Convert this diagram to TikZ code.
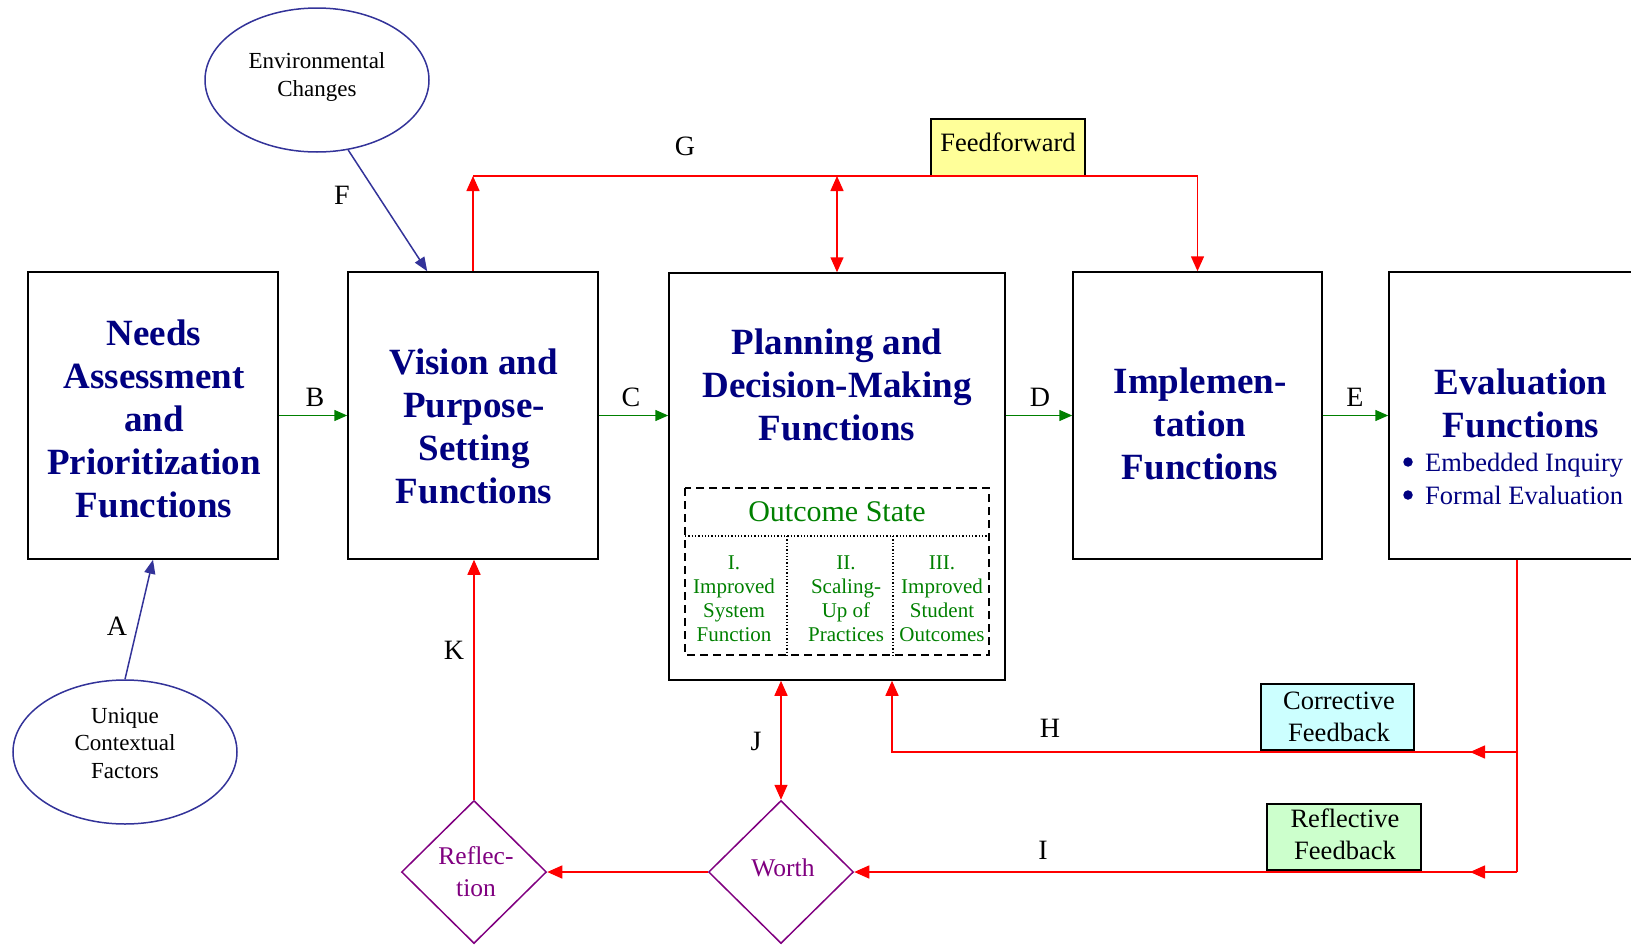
\documentclass[tikz,border=0pt]{standalone}
\usepackage{fontspec}
\setmainfont{Liberation Serif}
\usetikzlibrary{arrows.meta,shapes.geometric}
\definecolor{navyblue}{RGB}{0,0,128}
\definecolor{dkgreen}{RGB}{0,128,0}
\definecolor{plum}{RGB}{128,0,128}
\definecolor{indigo}{RGB}{51,51,153}
\definecolor{cyanfill}{RGB}{204,255,255}
\definecolor{greenfill}{RGB}{204,255,204}
\definecolor{yellowfill}{RGB}{255,255,153}
\begin{document}
\begin{tikzpicture}[x=1pt,y=-1pt,
  funcbox/.style={draw=black, line width=1.5pt, inner sep=0pt, minimum height=287pt},
  titletext/.style={font=\fontsize{37}{43}\selectfont\bfseries, text=navyblue, align=center, inner sep=0pt},
  lbl/.style={font=\fontsize{28}{32}\selectfont, inner sep=0pt},
  oval/.style={ellipse, draw=indigo, line width=1.5pt, minimum width=224pt, minimum height=144pt, inner sep=0pt},
  ovaltext/.style={font=\fontsize{23}{27.5}\selectfont, align=center, inner sep=0pt},
  judge/.style={diamond, draw=plum, line width=1.5pt, minimum width=145pt, minimum height=143pt, inner sep=0pt},
  judgetext/.style={font=\fontsize{25.5}{32}\selectfont, text=plum, align=center, inner sep=0pt},
  notebox/.style={draw=black, line width=1.5pt, inner sep=0pt},
  notetext/.style={font=\fontsize{26.5}{32}\selectfont, align=center, inner sep=0pt},
  flow/.style={draw=dkgreen, line width=1.5pt, -{Triangle[length=13pt,width=11pt]}},
  loop/.style={draw=red, line width=1.5pt},
  tip/.style={-{Triangle[length=15pt,width=13pt]}},
  bothtips/.style={{Triangle[length=15pt,width=13pt]}-{Triangle[length=15pt,width=13pt]}},
  cause/.style={draw=indigo, line width=1.5pt, -{Triangle[length=14pt,width=11pt]}},
  outcome/.style={font=\fontsize{21}{24}\selectfont, text=dkgreen, align=center, inner sep=0pt},
  dot/.style={circle, fill=navyblue, minimum size=9.5pt, inner sep=0pt},
  bullettext/.style={font=\fontsize{26.5}{31}\selectfont, text=navyblue, anchor=base west, inner sep=0pt}
]
\useasboundingbox (0,0) rectangle (1631,945);
\clip (0,0) rectangle (1631,945);

% the five function boxes
\node[funcbox, minimum width=250pt] (needs) at (153,415.5) {};
\node[funcbox, minimum width=250pt] (vision) at (473,415.5) {};
\node[funcbox, minimum width=336pt, minimum height=407pt] (planning) at (837,476.5) {};
\node[funcbox, minimum width=249pt] (impl) at (1197.5,415.5) {};
\node[funcbox, minimum width=256pt] (eval) at (1517,415.5) {};

\node[titletext] (needsT) at (154,419) {Needs\\Assessment\\and\\Prioritization\\Functions};
\node[titletext] (visionT) at (474,426) {Vision and\\Purpose-\\Setting\\Functions};
\node[titletext] (planT) at (837,385) {Planning and\\Decision-Making\\Functions};
\node[titletext] (implT) at (1200,424) {Implemen-\\tation\\Functions};
\node[titletext] (evalT) at (1521,403) {Evaluation\\Functions};
\node[dot] (b1) at (1408,462) {};
\node[dot] (b2) at (1408,495) {};
\node[bullettext] (evalL1) at (1425,471) {Embedded Inquiry};
\node[bullettext] (evalL2) at (1425,504) {Formal Evaluation};

% outcome state panel inside the planning box
\draw[line width=1.5pt, dash pattern=on 8pt off 5pt] (685,488) rectangle (989,655);
\draw[line width=1.3pt, dotted] (685,536) -- (989,536);
\draw[line width=1.3pt, dotted] (787,536) -- (787,655);
\draw[line width=1.3pt, dotted] (893,536) -- (893,655);
\node[font=\fontsize{30}{34}\selectfont, text=dkgreen, inner sep=0pt] (outT) at (837,512) {Outcome State};
\node[outcome] (out1) at (734,599) {I.\\Improved\\System\\Function};
\node[outcome] (out2) at (846,599) {II.\\Scaling-\\Up of\\Practices};
\node[outcome] (out3) at (942,599) {III.\\Improved\\Student\\Outcomes};

% context ovals
\node[oval] (env) at (317,80) {};
\node[oval] (uniq) at (125,752) {};
\node[ovaltext] (envT) at (317,77) {Environmental\\Changes};
\node[ovaltext] (uniqT) at (125,743) {Unique\\Contextual\\Factors};

% judgement diamonds
\node[judge] (refl) at (474,872) {};
\node[judge] (worth) at (781,872) {};
\node[judgetext] (reflT) at (476,872) {Reflec-\\tion};
\node[judgetext] (worthT) at (783,868) {Worth};

% feedback notes
\node[notebox, fill=yellowfill, minimum width=154pt, minimum height=57pt] (ffwd) at (1008,147.5) {};
\node[notebox, fill=cyanfill, minimum width=153pt, minimum height=66pt] (corr) at (1337.5,717) {};
\node[notebox, fill=greenfill, minimum width=154pt, minimum height=66pt] (refb) at (1344,837) {};
\node[notetext] (ffwdT) at (1008,142) {Feedforward};
\node[notetext] (corrT) at (1339,717) {Corrective\\Feedback};
\node[notetext] (refbT) at (1345,834) {Reflective\\Feedback};

% main flow
\draw[flow] (needs.east) -- (vision.west);
\draw[flow] (vision.east) -- (vision.east -| planning.west);
\draw[flow] (planning.east |- impl.west) -- (impl.west);
\draw[flow] (impl.east) -- (eval.west);

% context influences
\draw[cause] (uniq.north) -- (needs.south);
\draw[cause] (env.-66) -- ([xshift=80pt]vision.north west);

% feedforward loop (G)
\coordinate (gline) at (0,176);
\draw[loop, tip] (vision.north) -- (vision.north |- gline);
\draw[loop, tip] (vision.north |- gline) -- (impl.north |- gline) -- (impl.north);
\draw[loop, bothtips] (planning.north |- gline) -- (planning.north);

% corrective and reflective feedback (H, I)
\coordinate (hline) at (892,752);
\coordinate (iline) at (0,872);
\coordinate (hmid) at (1470,752);
\coordinate (imid) at (1470,872);
\draw[loop] (eval.south) -- (eval.south |- iline);
\draw[loop, tip] (eval.south |- hline) -- (hline) -- (hline |- planning.south);
\draw[loop, tip] (eval.south |- hline) -- (hmid);
\draw[loop, tip] (eval.south |- iline) -- (worth.east);
\draw[loop, tip] (eval.south |- iline) -- (imid);

% judgement loop (J, K)
\draw[loop, bothtips] (planning.south -| worth.north) -- (worth.north);
\draw[loop, tip] (worth.west) -- (refl.east);
\draw[loop, tip] (refl.north) -- (refl.north |- vision.south);

% connector letters
\node[lbl] (lA) at (117,626) {A};
\node[lbl] (lB) at (315,397) {B};
\node[lbl] (lC) at (631,397) {C};
\node[lbl] (lD) at (1040,397) {D};
\node[lbl] (lE) at (1355,397) {E};
\node[lbl] (lF) at (342,195) {F};
\node[lbl] (lG) at (685,146) {G};
\node[lbl] (lH) at (1050,728) {H};
\node[lbl] (lI) at (1043,850) {I};
\node[lbl] (lJ) at (756,741) {J};
\node[lbl] (lK) at (454,650) {K};
\end{tikzpicture}
\end{document}
